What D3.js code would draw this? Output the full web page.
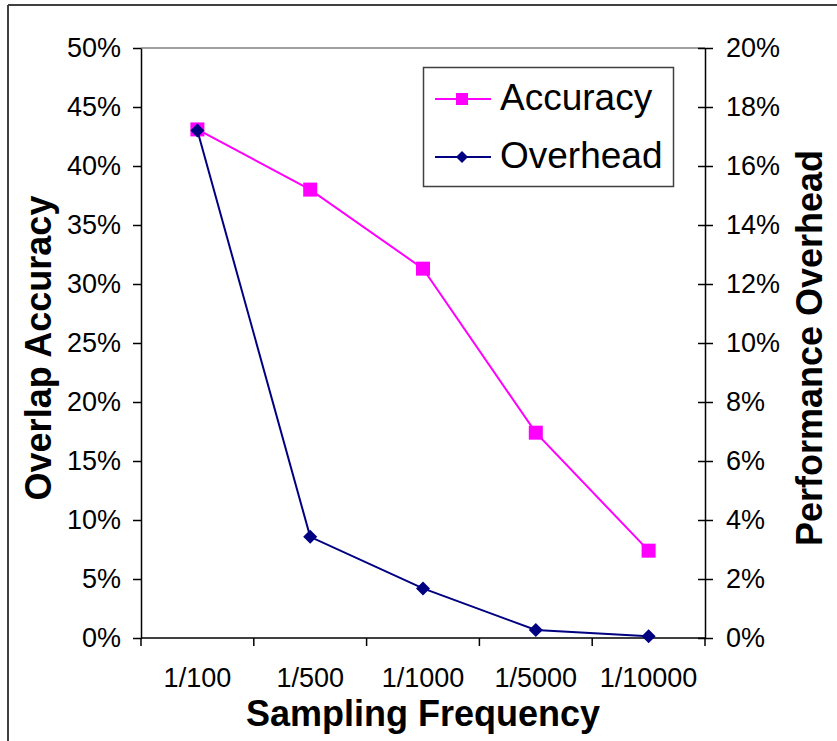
<!DOCTYPE html>
<html>
<head>
<meta charset="utf-8">
<script src="https://cdn.jsdelivr.net/npm/d3@7"></script>
<style>
  html, body { margin: 0; padding: 0; background: #fff; }
  svg { display: block; }
  text { font-family: Arial, "Liberation Sans", sans-serif; fill: #000; }
</style>
</head>
<body>
<svg id="chart" width="837" height="741"></svg>
<script>
// Sampling frequencies on the x axis
const categories = ["1/100", "1/500", "1/1000", "1/5000", "1/10000"];
// Overlap accuracy (left axis, fraction)
const accuracy = [0.431, 0.380, 0.313, 0.174, 0.074];
// Performance overhead (right axis, fraction)
const overhead = [0.172, 0.0343, 0.0168, 0.0027, 0.0006];
// Tick values for both value axes
const leftTicks = [0, 0.05, 0.10, 0.15, 0.20, 0.25, 0.30, 0.35, 0.40, 0.45, 0.50];
const rightTicks = [0, 0.02, 0.04, 0.06, 0.08, 0.10, 0.12, 0.14, 0.16, 0.18, 0.20];
const seriesNames = ["Accuracy", "Overhead"];

const svg = d3.select("#chart");
const plot = { left: 141, right: 705, top: 48, bottom: 638 };

const x = d3.scaleBand().domain(categories).range([plot.left, plot.right]).padding(0);
const yL = d3.scaleLinear().domain([0, 0.5]).range([plot.bottom, plot.top]);
const yR = d3.scaleLinear().domain([0, 0.2]).range([plot.bottom, plot.top]);
const pct = d3.format(".0%");

// outer frame (left and top edges visible)
svg.append("line").attr("x1", 8).attr("y1", 5).attr("x2", 8).attr("y2", 741)
  .attr("stroke", "#404040").attr("stroke-width", 2);
svg.append("line").attr("x1", 8).attr("y1", 5).attr("x2", 837).attr("y2", 5)
  .attr("stroke", "#404040").attr("stroke-width", 2);

// top edge of plot area
svg.append("line").attr("x1", plot.left).attr("x2", plot.right)
  .attr("y1", plot.top).attr("y2", plot.top)
  .attr("stroke", "#808080").attr("stroke-width", 1.5);

// left axis
const gL = svg.append("g").attr("transform", `translate(${plot.left},0)`)
  .call(d3.axisLeft(yL).tickValues(leftTicks).tickFormat(pct).tickSizeInner(8).tickSizeOuter(0).tickPadding(12));
gL.selectAll("text").style("font-size", "27px").attr("font-family", null);
gL.selectAll("line, path").attr("stroke", "#000").attr("stroke-width", 1.5);

// right axis (ticks cross the axis line)
const gR = svg.append("g").attr("transform", `translate(${plot.right},0)`)
  .call(d3.axisRight(yR).tickValues(rightTicks).tickFormat(pct).tickSizeInner(8).tickSizeOuter(0).tickPadding(13));
gR.selectAll(".tick line").attr("x1", -7);
gR.selectAll("text").style("font-size", "27px").attr("font-family", null);
gR.selectAll("line, path").attr("stroke", "#000").attr("stroke-width", 1.5);

// bottom axis: ticks at category boundaries, labels at centers
const edges = categories.map(c => x(c)).concat([x(categories[categories.length - 1]) + x.bandwidth()]);
const gB = svg.append("g");
gB.append("line").attr("x1", plot.left).attr("x2", plot.right)
  .attr("y1", plot.bottom).attr("y2", plot.bottom)
  .attr("stroke", "#000").attr("stroke-width", 1.5);
gB.selectAll("line.tk").data(edges).join("line").attr("class", "tk")
  .attr("x1", d => d).attr("x2", d => d)
  .attr("y1", plot.bottom).attr("y2", plot.bottom + 8)
  .attr("stroke", "#000").attr("stroke-width", 1.5);
gB.selectAll("text").data(categories).join("text")
  .attr("x", d => x(d) + x.bandwidth() / 2).attr("y", 687)
  .attr("text-anchor", "middle").style("font-size", "27px").text(d => d);

// axis titles
svg.append("text").attr("x", 423).attr("y", 726).attr("text-anchor", "middle")
  .style("font-size", "36px").style("font-weight", "bold").text("Sampling Frequency");
svg.append("text").attr("transform", "translate(51,348) rotate(-90)").attr("text-anchor", "middle")
  .style("font-size", "36px").style("font-weight", "bold").text("Overlap Accuracy");
svg.append("text").attr("transform", "translate(822,348) rotate(-90)").attr("text-anchor", "middle")
  .style("font-size", "36px").style("font-weight", "bold").text("Performance Overhead");

const cx = d => x(d) + x.bandwidth() / 2;
const accData = categories.map((c, i) => ({ c, v: accuracy[i] }));
const ovhData = categories.map((c, i) => ({ c, v: overhead[i] }));

// accuracy series
svg.append("path").datum(accData)
  .attr("fill", "none").attr("stroke", "#FF00FF").attr("stroke-width", 2)
  .attr("d", d3.line().x(d => cx(d.c)).y(d => yL(d.v)));
svg.selectAll("rect.acc").data(accData).join("rect").attr("class", "acc")
  .attr("x", d => cx(d.c) - 7).attr("y", d => yL(d.v) - 7)
  .attr("width", 14).attr("height", 14).attr("fill", "#FF00FF");

// overhead series
svg.append("path").datum(ovhData)
  .attr("fill", "none").attr("stroke", "#000080").attr("stroke-width", 2)
  .attr("d", d3.line().x(d => cx(d.c)).y(d => yR(d.v)));
const diamond = "M0,-7L7,0L0,7L-7,0Z";
svg.selectAll("path.ovh").data(ovhData).join("path").attr("class", "ovh")
  .attr("transform", d => `translate(${cx(d.c)},${yR(d.v)})`)
  .attr("d", diamond).attr("fill", "#000080");

// legend
const lg = svg.append("g");
lg.append("rect").attr("x", 423.5).attr("y", 67.5).attr("width", 250).attr("height", 119)
  .attr("fill", "#fff").attr("stroke", "#404040").attr("stroke-width", 1.5);
const rowsY = [99, 157];
seriesNames.forEach((name, i) => {
  const col = i === 0 ? "#FF00FF" : "#000080";
  lg.append("line").attr("x1", 435).attr("x2", 491).attr("y1", rowsY[i]).attr("y2", rowsY[i])
    .attr("stroke", col).attr("stroke-width", 2);
  if (i === 0) {
    lg.append("rect").attr("x", 456).attr("y", rowsY[i] - 6).attr("width", 12).attr("height", 12).attr("fill", col);
  } else {
    lg.append("path").attr("transform", `translate(462,${rowsY[i]})`).attr("d", "M0,-6L6,0L0,6L-6,0Z").attr("fill", col);
  }
  lg.append("text").attr("x", 500).attr("y", rowsY[i] + 11).style("font-size", "37px").text(name);
});
</script>
</body>
</html>
